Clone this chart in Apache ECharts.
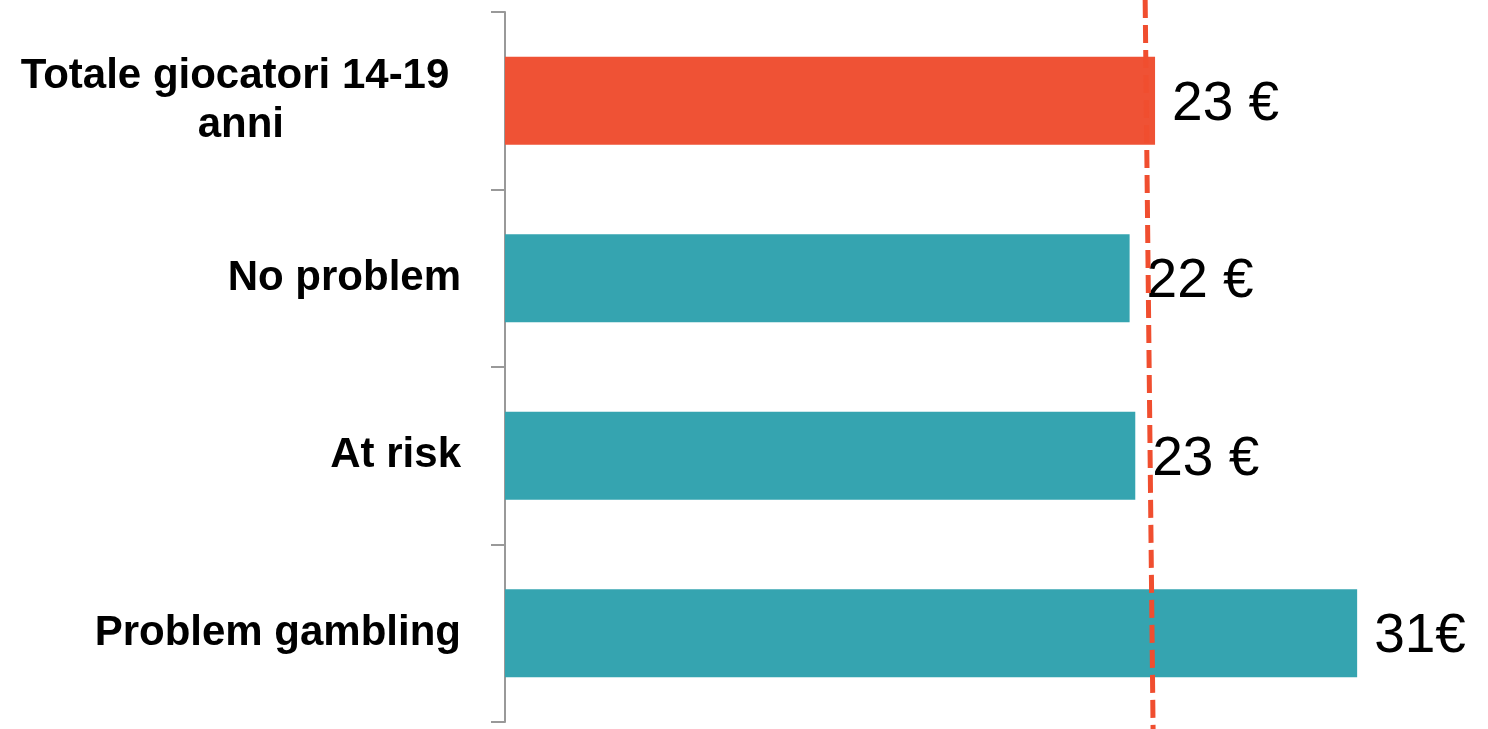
<!DOCTYPE html>
<html>
<head>
<meta charset="utf-8">
<script src="https://cdn.jsdelivr.net/npm/echarts@6/dist/echarts.min.js"></script>
<style>
  html, body { margin: 0; padding: 0; background: #fff; }
  #chart { width: 1488px; height: 729px; }
</style>
</head>
<body>
<div id="chart"></div>
<script>
  // categories, top to bottom
  var categories = ['Totale giocatori 14-19 \nanni', 'No problem', 'At risk', 'Problem gambling'];
  // spending per player (euro)
  var values = [23, 22.1, 22.3, 30.15];
  // printed labels as they appear in the chart
  var valueLabels = ['23 €', '22 €', '23 €', '31€'];
  // reference (average) line, slightly slanted: [x, y] on a 0..1 helper axis
  var avgLine = [[22.65, 1.017], [22.93, -0.01]];

  var RED = '#EF5235';
  var TEAL = '#35A4B0';

  var myChart = echarts.init(document.getElementById('chart'));

  myChart.setOption({
    animation: false,
    grid: {
      left: 505,
      top: 12,
      bottom: 7,
      right: 0
    },
    xAxis: {
      type: 'value',
      min: 0,
      max: 34.78,
      show: false
    },
    yAxis: [
      {
        type: 'category',
        inverse: true,
        data: categories,
        axisLine: { lineStyle: { color: '#999999', width: 2 } },
        axisTick: { show: true, length: 14, lineStyle: { color: '#999999', width: 2 } },
        axisLabel: {
          margin: 44,
          formatter: function (v) {
            return v.split('\n').map(function (s) { return '{c|' + s + '}'; }).join('\n');
          },
          rich: {
            c: {
              align: 'center',
              fontFamily: 'Liberation Sans',
              fontWeight: 'bold',
              fontSize: 42,
              lineHeight: 49,
              color: '#000'
            }
          }
        },
        splitLine: { show: false }
      },
      {
        type: 'value',
        min: 0,
        max: 1,
        show: false
      }
    ],
    series: [
      {
        type: 'bar',
        data: values,
        barWidth: 88,
        itemStyle: {
          color: function (p) { return p.dataIndex === 0 ? RED : TEAL; }
        },
        label: {
          show: true,
          position: 'right',
          distance: 17,
          offset: [0, 4],
          fontFamily: 'Liberation Sans',
          fontSize: 55,
          color: '#000',
          formatter: function (p) { return valueLabels[p.dataIndex]; }
        }
      },
      {
        type: 'line',
        yAxisIndex: 1,
        data: avgLine,
        symbol: 'none',
        clip: false,
        z: 5,
        lineStyle: { color: '#F04E2F', width: 5, type: [18, 7] }
      }
    ]
  });
</script>
</body>
</html>
